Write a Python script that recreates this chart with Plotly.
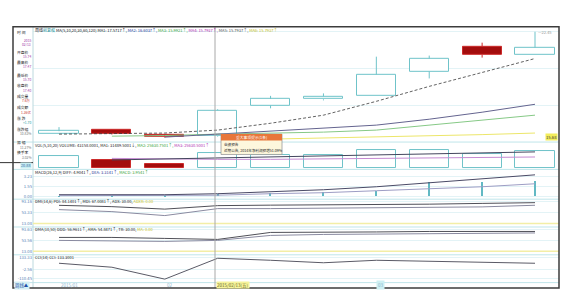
import plotly.graph_objects as go

W, H = 579, 300
FONT = "Noto Sans CJK SC"

# ---------------- data ----------------
dates = ["2015/01/23", "2015/01/30", "2015/02/06", "2015/02/13", "2015/02/17",
         "2015/02/27", "2015/03/06", "2015/03/13", "2015/03/20", "2015/03/27"]
opens = [15.87, 16.13, 15.83, 15.74, 17.72, 18.11, 18.36, 19.90, 21.49, 20.98]
highs = [16.32, 16.19, 15.87, 17.47, 18.33, 18.49, 20.85, 20.92, 21.75, 22.45]
lows = [15.87, 15.84, 15.65, 15.70, 17.53, 18.04, 18.36, 19.45, 20.79, 20.98]
closes = [16.06, 15.87, 15.70, 17.40, 18.13, 18.30, 19.70, 20.73, 20.98, 21.43]

ma1 = [15.87, 15.90, 15.94, 16.13, 16.57, 17.09, 17.98, 18.94, 19.83, 20.73]
ma2 = [None, None, 15.68, 15.87, 16.06, 16.25, 16.45, 16.83, 17.28, 17.79]
ma3 = [None, 15.74, 15.78, 15.87, 15.94, 16.00, 16.13, 16.45, 16.77, 17.09]
ma4 = [None, None, None, None, 15.55, 15.62, 15.68, 15.74, 15.84, 15.94]

volume = [6.1, 4.0, 2.1, 7.6, 7.0, 6.6, 9.1, 9.2, 7.1, 9.0]
vol_ma1 = [None, 4.3, 4.8, 5.3, 5.8, 6.3, 6.8, 7.3, 7.8, 8.4]
vol_ma2 = [None, 5.1, 4.8, 4.6, 4.6, 4.8, 5.1, 5.3, 5.3, 5.8]

dif = [0.24, 0.24, 0.24, 0.40, 0.72, 1.04, 1.52, 2.16, 2.80, 3.44]
dea = [0.08, 0.08, 0.08, 0.16, 0.40, 0.56, 0.88, 1.20, 1.52, 2.00]
macd_hist = [0.05, 0.06, 0.08, 0.40, 0.56, 0.72, 0.90, 2.32, 2.32, 2.48]

dmi_a = [79.7, 74.9, 65.8, 78.6, 80.4, 81.3, 82.2, 84.0, 86.8, 89.5]
dmi_b = [64.0, 56.7, 42.2, 67.7, 67.7, 68.6, 69.5, 71.3, 74.0, 80.0]

dma_a = [64.3, 64.3, 60.7, 57.0, 82.7, 82.7, 84.5, 86.3, 86.3, 86.3]
dma_b = [53.4, 51.5, 49.7, 53.4, 71.7, 75.3, 77.2, 79.0, 79.0, 80.8]

cci = [65.5, 20.3, -115.3, 122.0, 99.4, 71.2, 99.4, 88.1, 76.8, 65.5]

ticks_macd = [3.23, 1.55, 0.00]
ticks_dmi = [93.16, 53.33, 13.08]
ticks_dma = [93.63, 53.56, 13.08]
ticks_cci = [133.33, -2.56, -110.45]
ticks_price_grid = [17.72, 20.09, 22.45]
ref_level = 13.08

cross_index = 3
cross_price = 15.68

# ---------------- helpers ----------------
def PX(x):
    return x / W


def PY(y):
    return 1 - y / H


n = len(dates)
xi = list(range(n))
UP = "#6fc3c9"
DN_FILL = "#a30d0d"
DN_LINE = "#cc2a2a"

fig = go.Figure()

# wicks (outside body only)
for up in (True, False):
    wx, wy = [], []
    for i in range(n):
        if (closes[i] >= opens[i]) != up:
            continue
        top, bot = max(opens[i], closes[i]), min(opens[i], closes[i])
        if highs[i] > top:
            wx += [i, i, None]; wy += [top, highs[i], None]
        if lows[i] < bot:
            wx += [i, i, None]; wy += [bot, lows[i], None]
    fig.add_trace(go.Scatter(x=wx, y=wy, mode="lines", yaxis="y",
                             line=dict(color=UP if up else DN_LINE, width=1)))

# bodies
bases = [min(o, c) for o, c in zip(opens, closes)]
hts = [max(abs(c - o), 0.02) for o, c in zip(opens, closes)]
fills = ["white" if c >= o else DN_FILL for o, c in zip(opens, closes)]
lcols = [UP if c >= o else DN_LINE for o, c in zip(opens, closes)]
fig.add_trace(go.Bar(x=xi, y=hts, base=bases, width=0.74, yaxis="y",
                     marker=dict(color=fills, line=dict(color=lcols, width=1))))

# moving averages
fig.add_trace(go.Scatter(x=xi, y=ma4, mode="lines", yaxis="y", line=dict(color="#ece66a", width=1)))
fig.add_trace(go.Scatter(x=xi, y=ma3, mode="lines", yaxis="y", line=dict(color="#86c986", width=1)))
fig.add_trace(go.Scatter(x=xi, y=ma2, mode="lines", yaxis="y", line=dict(color="#64648f", width=1)))
fig.add_trace(go.Scatter(x=xi, y=ma1, mode="lines", yaxis="y",
                         line=dict(color="#3a3a3a", width=0.8, dash="3px,2px")))

# volume
vup = [True] + [closes[i] >= closes[i - 1] for i in range(1, n)]
fig.add_trace(go.Bar(x=xi, y=volume, base=0, width=0.74, yaxis="y2",
                     marker=dict(color=["white" if u else DN_FILL for u in vup],
                                 line=dict(color=[UP if u else DN_LINE for u in vup], width=1))))
fig.add_trace(go.Scatter(x=xi, y=vol_ma2, mode="lines", yaxis="y2", line=dict(color="#c58ad2", width=1)))
fig.add_trace(go.Scatter(x=xi, y=vol_ma1, mode="lines", yaxis="y2", line=dict(color="#44465e", width=1)))

# MACD
fig.add_trace(go.Bar(x=xi, y=macd_hist, base=0, width=0.025, yaxis="y3",
                     marker=dict(color="#62b9c4", line=dict(width=0))))
fig.add_trace(go.Scatter(x=xi, y=dea, mode="lines", yaxis="y3", line=dict(color="#9d9dc4", width=1)))
fig.add_trace(go.Scatter(x=xi, y=dif, mode="lines", yaxis="y3", line=dict(color="#4a4a66", width=1)))

# DMI
fig.add_trace(go.Scatter(x=xi, y=dmi_b, mode="lines", yaxis="y4", line=dict(color="#8a8aa0", width=1)))
fig.add_trace(go.Scatter(x=xi, y=dmi_a, mode="lines", yaxis="y4", line=dict(color="#505058", width=1)))
# DMA
fig.add_trace(go.Scatter(x=xi, y=dma_b, mode="lines", yaxis="y5", line=dict(color="#8a8aa0", width=1)))
fig.add_trace(go.Scatter(x=xi, y=dma_a, mode="lines", yaxis="y5", line=dict(color="#505058", width=1)))
# CCI
fig.add_trace(go.Scatter(x=xi, y=cci, mode="lines", yaxis="y6", line=dict(color="#5a5a66", width=1)))

# ---------------- axes ----------------
XD = [PX(33), PX(559)]
ybase = dict(showgrid=True, gridcolor="#e3f3f6", gridwidth=1, zeroline=False,
             showline=False, ticks="", anchor="x", fixedrange=True,
             tickfont=dict(family=FONT, size=4.2, color="#4f7db3"))

layout_axes = dict(
    xaxis=dict(domain=XD, range=[-0.4916, 9.4538], showgrid=False, zeroline=False,
               showticklabels=False, ticks="", anchor="y6", fixedrange=True),
    yaxis=dict(ybase, domain=[PY(140), PY(27)], range=[15.425, 22.64],
               tickvals=ticks_price_grid, showticklabels=False),
    yaxis2=dict(ybase, domain=[PY(167.5), PY(143)], range=[0, 12.4],
                showgrid=False, showticklabels=False),
    yaxis3=dict(ybase, domain=[PY(198), PY(170)], range=[-0.4, 4.08],
                tickvals=ticks_macd, ticktext=[f"{v:.2f}" for v in ticks_macd]),
    yaxis4=dict(ybase, domain=[PY(227), PY(199)], range=[-1.48, 100.44],
                tickvals=ticks_dmi, ticktext=[f"{v:.2f}" for v in ticks_dmi]),
    yaxis5=dict(ybase, domain=[PY(254), PY(227)], range=[2.13, 100.95],
                tickvals=ticks_dma, ticktext=[f"{v:.2f}" for v in ticks_dma]),
    yaxis6=dict(ybase, domain=[PY(282), PY(255)], range=[-149.2, 155.93],
                tickvals=ticks_cci, ticktext=[f"{v:.2f}" for v in ticks_cci]),
)

# ---------------- shapes ----------------
shapes = []
SEP = "#bfe5ea"
for yy in (141, 168.5, 198.5, 226.5, 254.5, 282.5):
    shapes.append(dict(type="line", xref="paper", yref="paper", x0=PX(13), x1=PX(559),
                       y0=PY(yy), y1=PY(yy), line=dict(color=SEP, width=1)))
shapes.append(dict(type="line", xref="paper", yref="paper", x0=PX(33), x1=PX(33),
                   y0=PY(25), y1=PY(288), line=dict(color="#bcd9de", width=1)))
shapes.append(dict(type="line", xref="paper", yref="paper", x0=PX(0), x1=PX(33),
                   y0=PY(161.7), y1=PY(161.7), line=dict(color="#333", width=1)))
for ax in ("y4", "y5"):
    shapes.append(dict(type="line", xref="paper", yref=ax, x0=PX(33), x1=PX(559),
                       y0=ref_level, y1=ref_level, line=dict(color="#f3eea6", width=1.5)))
# crosshair
shapes.append(dict(type="line", xref="paper", yref="paper", x0=PX(215), x1=PX(215),
                   y0=PY(25), y1=PY(288), line=dict(color="#a8a8a8", width=1)))
# tooltip
shapes.append(dict(type="rect", xref="paper", yref="paper", x0=PX(221), x1=PX(282),
                   y0=PY(153.5), y1=PY(133), fillcolor="#fdf7dd", line=dict(color="#9a9a9a", width=0.8)))
shapes.append(dict(type="rect", xref="paper", yref="paper", x0=PX(221), x1=PX(282),
                   y0=PY(139.5), y1=PY(133), fillcolor="#e8763a", line=dict(width=0)))
# frame
shapes.append(dict(type="rect", xref="paper", yref="paper", x0=PX(13), x1=PX(559),
                   y0=PY(288), y1=PY(25), line=dict(color="#3c3c3c", width=1.5)))

# ---------------- annotations ----------------
ann = []


def txt(x, y, s, size=4, color="#222", anchor="left", bg=None, xref="paper", yref="paper"):
    d = dict(x=x, y=y, xref=xref, yref=yref, text=s, showarrow=False, xanchor=anchor,
             yanchor="middle", align=anchor if anchor != "center" else "center",
             font=dict(family=FONT, size=size, color=color), borderpad=0)
    if bg:
        d["bgcolor"] = bg
    ann.append(d)


t_main = ("<span style='color:#222'>周线</span><span style='color:#1e8f96'>前复权</span> "
          "MA(5,10,20,30,60,120) "
          "<span style='color:#222'>MA1: 17.5717↑,</span> "
          "<span style='color:#2a3a9a'>MA2: 16.6037↑,</span> "
          "<span style='color:#38a238'>MA3: 15.9921↑,</span> "
          "<span style='color:#b030b0'>MA4: 15.7937↑,</span> "
          "<span style='color:#555'>MA5: 15.7937↑,</span> "
          "<span style='color:#c9c21e'>MA6: 15.7937↑</span>")
txt(PX(34), PY(28), t_main)
t_vol = ("VOL(5,10,20) VOLUME: 43158.0001, MA1: 31489.5001↓, "
         "<span style='color:#38a238'>MA2: 25630.7501↑,</span> "
         "<span style='color:#b030b0'>MA3: 25630.5001↑</span>")
txt(PX(34), PY(143.5), t_vol)
t_macd = ("MACD(26,12,9) DIFF: 4.9041↑, <span style='color:#2a3a9a'>DEA: 3.3141↑,</span> "
          "<span style='color:#38a238'>MACD: 3.9541↑</span>")
txt(PX(34), PY(171), t_macd)
t_dmi = "DMI(14,6) PDI: 84.1401↑, MDI: 67.0081↑, ADX: 30.00, <span style='color:#c9c21e'>ADXR: 0.00</span>"
txt(PX(34), PY(200), t_dmi)
t_dma = "DMA(10,50) DDD: 56.9611↑, AMA: 54.8471↑, TR: 30.00, <span style='color:#c9c21e'>MA: 0.00</span>"
txt(PX(34), PY(228.5), t_dma)
txt(PX(34), PY(256.5), "CCI(14) CCI: 133.3001")

# info column
i = cross_index
prev_c = closes[i - 1]
amount = volume[i] * 1e6 * (opens[i] + closes[i]) / 2 / 1e8
chg = closes[i] - prev_c
info = [
    ("时 间", 31, None, None),
    (None, 38.5, dates[i][:4], "#a03aa8"),
    (None, 42.5, dates[i][5:], "#a03aa8"),
    ("开盘价", 51, f"{opens[i]:.2f}", "#a03aa8"),
    ("最高价", 61, f"{highs[i]:.2f}", "#a03aa8"),
    ("最低价", 73.5, f"{lows[i]:.2f}", "#a03aa8"),
    ("收盘价", 84.5, f"{closes[i]:.2f}", "#a03aa8"),
    ("成交量", 95, f"{volume[i]:.1f}万", "#c83030"),
    ("成交额", 106.5, f"{amount:.2f}亿", "#c83030"),
    ("涨 跌", 117.5, f"{chg:+.2f}", "#2a9aa0"),
    ("涨跌幅", 128.5, f"{chg / prev_c * 100:.2f}%", "#777"),
    ("振 幅", 141.7, f"{(highs[i] - lows[i]) / prev_c * 100:.2f}%", "#777"),
    ("换手率", 152, "3.02%", "#777"),
]
for lab, yy, val, col in info:
    if lab:
        txt(PX(16), PY(yy), lab, size=3.8, color="#1a1a1a")
        if val:
            txt(PX(32), PY(yy + 4.3), val, size=3.3, color=col, anchor="right")
    else:
        txt(PX(32), PY(yy), val, size=3.3, color=col, anchor="right")
txt(PX(32), PY(165), f"{cross_price + 5.2:.2f}", size=3.8, color="#2a5aa0", anchor="right", bg="#c6eef2")

# tooltip text
txt(PX(251.5), PY(136.3), "重大事项提示(1条)", size=3.8, color="#ffffff", anchor="center")
txt(PX(223), PY(143.5), "业绩预告", size=3.6, color="#222")
txt(PX(223), PY(149.8), "近期公告, 2014年净利润预增51.09%", size=3.6, color="#222")

# price labels
txt(PX(558), cross_price, f"{cross_price:.2f}", size=4.2, color="#333", anchor="right",
    bg="#f3ee5c", yref="y")
imax = max(range(n), key=lambda k: highs[k])
ann.append(dict(x=imax, y=highs[imax], xref="x", yref="y", text=f"—{highs[imax]:.2f}",
                showarrow=False, xanchor="left", yanchor="middle", xshift=1,
                font=dict(family=FONT, size=4, color="#999")))

# date row
seen = set()
for k, d in enumerate(dates):
    ym = d[:7]
    if ym in seen:
        continue
    lab = d[:7] if not seen else d[5:7]
    seen.add(ym)
    ann.append(dict(x=k, y=PY(285), xref="x", yref="paper", text=lab, showarrow=False,
                    xanchor="left", yanchor="middle",
                    bgcolor="#cdeff2" if k == 6 else None,
                    font=dict(family=FONT, size=4.5, color="#8fb7cf")))
txt(PX(215.5), PY(285), f"{dates[cross_index]}(五)", size=4.5, color="#6a6a2a", bg="#f6f39a")
txt(PX(14), PY(285.3), "<span style='color:#2050a8'>周线▲</span>", size=4.4, bg="#d4eef3")

fig.update_layout(
    width=W, height=H, margin=dict(l=0, r=0, t=0, b=0), autosize=False,
    paper_bgcolor="white", plot_bgcolor="white", showlegend=False,
    hovermode=False, barmode="overlay", bargap=0,
    shapes=shapes, annotations=ann, **layout_axes,
)

fig.write_html("out.html", config={"displayModeBar": False})
